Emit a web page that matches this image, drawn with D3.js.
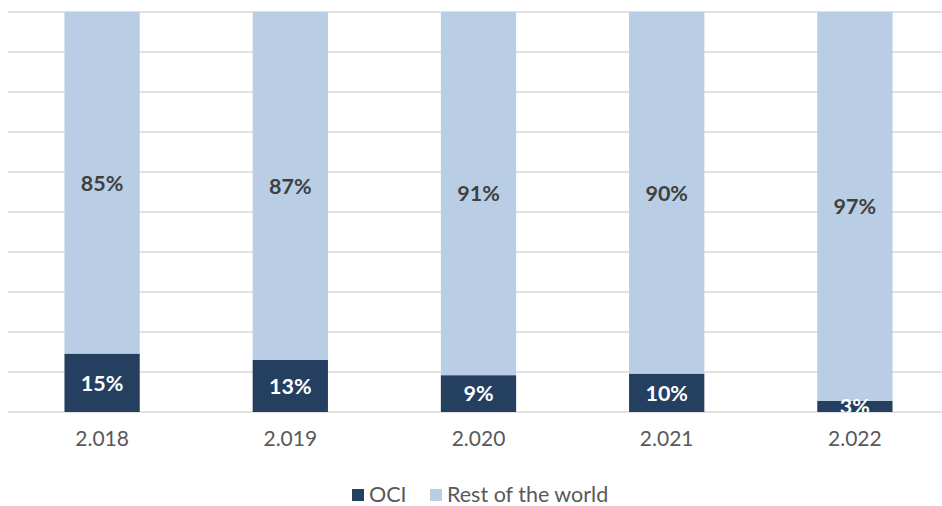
<!DOCTYPE html>
<html>
<head>
<meta charset="utf-8">
<script src="https://cdn.jsdelivr.net/npm/d3@7"></script>
<style>
  body { margin: 0; background: #fff; }
  svg { display: block; font-family: Lato, "Open Sans", sans-serif; }
</style>
</head>
<body>
<svg id="chart" width="942" height="506"></svg>
<script>
// data (shares in %)
const years = ['2.018', '2.019', '2.020', '2.021', '2.022'];
const oci = [14.6, 13, 9.2, 9.6, 2.8];
const rest = [85.4, 87, 90.8, 90.4, 97.2];
const seriesNames = ['OCI', 'Rest of the world'];
const seriesColors = ['#243F60', '#B9CDE5'];

const w = 942, h = 506;
const plotTop = 12, plotBottom = 412, plotLeft = 8, plotRight = 949;

const svg = d3.select('#chart');

const x = d3.scaleBand()
  .domain(years)
  .range([plotLeft, plotRight])
  .paddingInner(0.6)
  .paddingOuter(0.3);

const y = d3.scaleLinear()
  .domain([0, 100])
  .range([plotBottom, plotTop]);

// gridlines
svg.append('g')
  .selectAll('line')
  .data(y.ticks(10))
  .enter()
  .append('line')
  .attr('x1', plotLeft)
  .attr('x2', w)
  .attr('y1', d => y(d))
  .attr('y2', d => y(d))
  .attr('stroke', '#D9D9D9')
  .attr('stroke-width', 1.3);

const rows = years.map((yr, i) => ({ year: yr, oci: oci[i], rest: rest[i] }));
const stack = d3.stack().keys(['oci', 'rest'])(rows);

svg.append('defs').append('clipPath').attr('id', 'plot')
  .append('rect')
  .attr('x', plotLeft).attr('y', plotTop)
  .attr('width', w - plotLeft).attr('height', plotBottom - plotTop);

const layers = svg.append('g')
  .selectAll('g')
  .data(stack)
  .enter()
  .append('g')
  .attr('fill', (d, i) => seriesColors[i]);

layers.selectAll('rect')
  .data(d => d)
  .enter()
  .append('rect')
  .attr('x', d => x(d.data.year))
  .attr('width', x.bandwidth())
  .attr('y', d => y(d[1]))
  .attr('height', d => y(d[0]) - y(d[1]));

// value labels
const labels = svg.append('g').attr('clip-path', 'url(#plot)');
stack.forEach((layer, li) => {
  labels.selectAll('text.l' + li)
    .data(layer)
    .enter()
    .append('text')
    .attr('class', 'l' + li)
    .attr('x', d => x(d.data.year) + x.bandwidth() / 2)
    .attr('y', d => (y(d[0]) + y(d[1])) / 2)
    .attr('dy', '0.36em')
    .attr('text-anchor', 'middle')
    .attr('font-size', '21.5px')
    .attr('font-weight', 'bold')
    .attr('fill', li === 0 ? '#FFFFFF' : '#404040')
    .text(d => Math.round(d[1] - d[0]) + '%');
});

// x axis
const xAxis = svg.append('g')
  .attr('transform', `translate(0,${plotBottom})`)
  .call(d3.axisBottom(x).tickSize(0).tickPadding(19));
xAxis.select('.domain').remove();
xAxis.selectAll('text')
  .attr('font-family', 'Lato, "Open Sans", sans-serif')
  .attr('font-size', '21px')
  .attr('fill', '#595959');

// legend
const legendX = [352, 430];
const legend = svg.append('g')
  .selectAll('g')
  .data(seriesNames)
  .enter()
  .append('g')
  .attr('transform', (d, i) => `translate(${legendX[i]},494)`);

legend.append('rect')
  .attr('x', 0)
  .attr('y', -5)
  .attr('width', 12)
  .attr('height', 12)
  .attr('fill', (d, i) => seriesColors[i]);

legend.append('text')
  .attr('x', 17)
  .attr('dy', '0.36em')
  .attr('font-size', '21.5px')
  .attr('fill', '#595959')
  .text(d => d);
</script>
</body>
</html>
